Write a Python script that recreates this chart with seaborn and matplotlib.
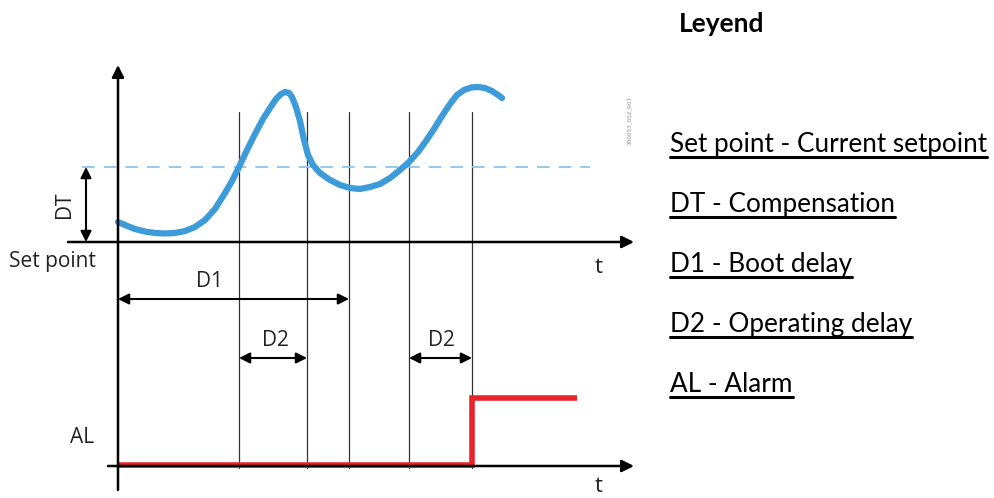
import matplotlib
matplotlib.use("Agg")
import matplotlib.pyplot as plt
import seaborn as sns
import pandas as pd

# diagram units: x = time position, y = screen height (pixel-like, grows downward)
curve_t = [118, 125, 135, 145, 155, 165, 175, 185, 195, 205, 215, 225, 232, 239, 247, 255, 263,
           270, 276, 281, 285, 289, 292, 296, 300, 304, 308, 313, 320, 330, 340, 350, 360, 370,
           380, 390, 400, 409, 418, 426, 434, 442, 450, 457, 464, 471, 478, 485, 492, 498, 502]
curve_v = [222, 225, 229, 231.5, 233, 233.5, 233, 231, 227, 220, 209, 193, 181, 167, 150, 134, 119,
           108, 99, 94, 92, 93, 97, 107, 121, 140, 155, 165, 173, 180, 185, 188, 189, 187,
           184, 178, 170, 162, 152, 141, 129, 116, 104, 95, 90, 87.5, 87, 88, 91, 95, 98]

alarm_t = [118, 472, 472, 577]
alarm_v = [465, 465, 398, 398]

event_t = [239, 307, 349, 409, 472]   # crossing / delay markers
setpoint_y = 242
threshold_y = 167
bottom_y = 466
origin_t = 118

delays = [("D1", 118, 349, 299, 210), ("D2", 239, 307, 358, 275), ("D2", 409, 472, 358, 441)]

legend_items = ["Set point - Current setpoint", "DT - Compensation", "D1 - Boot delay",
                "D2 - Operating delay", "AL - Alarm"]
legend_base = [152, 212, 272, 332, 392]

sns.set_theme(style="white")
plt.rcParams["font.family"] = ["Open Sans", "DejaVu Sans"]
diag_font = ["Open Sans", "DejaVu Sans"]
leg_font = ["Lato", "DejaVu Sans"]

fig = plt.figure(figsize=(9.95, 4.98), dpi=100)
ax = fig.add_axes([0, 0, 1, 1])

arrow = dict(arrowstyle="-|>", lw=1.8, color="black", mutation_scale=18, shrinkA=0, shrinkB=0)
darrow = dict(arrowstyle="<|-|>", lw=1.5, color="black", mutation_scale=16, shrinkA=0, shrinkB=0)

# event verticals
for t in event_t:
    ax.plot([t, t], [112, 468], color="#333333", lw=0.9)

# axes of the diagram
ax.annotate("", xy=(origin_t, 65), xytext=(origin_t, 490), arrowprops=arrow)
ax.annotate("", xy=(634, setpoint_y), xytext=(68, setpoint_y), arrowprops=arrow)
ax.annotate("", xy=(634, bottom_y), xytext=(108, bottom_y), arrowprops=arrow)

# threshold line
ax.plot([82, 590], [threshold_y, threshold_y], color="#8ec5ec", lw=1.3, dashes=(7, 5))

# DT arrow
ax.annotate("", xy=(86, threshold_y), xytext=(86, setpoint_y), arrowprops=darrow)
ax.text(64, 205, "DT", rotation=90, ha="center", va="center", fontsize=15, color="#222222",
        family=diag_font)

# measured curve
sns.lineplot(data=pd.DataFrame({"t": curve_t, "v": curve_v}), x="t", y="v", sort=False,
             estimator=None, ax=ax, color="#3d9bd9", lw=4.5, solid_capstyle="round",
             solid_joinstyle="round")

# alarm output
sns.lineplot(data=pd.DataFrame({"t": alarm_t, "v": alarm_v}), x="t", y="v", sort=False,
             estimator=None, ax=ax, color="#e8232a", lw=4, solid_capstyle="butt",
             solid_joinstyle="miter")

# delay arrows
for name, a, b, y, lx in delays:
    ax.annotate("", xy=(b, y), xytext=(a, y), arrowprops=darrow)
    ax.text(lx, y - 18, name, ha="center", va="center", fontsize=15, color="#222222",
            family=diag_font)

ax.text(52, 261, "Set point", ha="center", va="center", fontsize=15, color="#222222",
        family=diag_font)
ax.text(82, 437, "AL", ha="center", va="center", fontsize=15, color="#222222", family=diag_font)
ax.text(599, 267, "t", ha="center", va="center", fontsize=16, color="#222222", family=diag_font)
ax.text(599, 486, "t", ha="center", va="center", fontsize=16, color="#222222", family=diag_font)
ax.text(630, 120, "300053_052_R01", rotation=90, ha="center", va="center", fontsize=4.5,
        color="#888888")

ax.set_xlim(0, 995)
ax.set_ylim(498, 0)
ax.axis("off")

# legend block
ax.text(679, 32, "Leyend", ha="left", va="baseline", fontsize=19, fontweight="bold",
        color="black", family=leg_font)
fig.canvas.draw()
renderer = fig.canvas.get_renderer()
inv = ax.transData.inverted()
for label, y in zip(legend_items, legend_base):
    txt = ax.text(670, y, label, ha="left", va="baseline", fontsize=18.8, color="black",
                  family=leg_font)
    bb = txt.get_window_extent(renderer)
    x0, _ = inv.transform((bb.x0, bb.y0))
    x1, _ = inv.transform((bb.x1, bb.y0))
    ax.plot([x0, x1], [y + 4.5, y + 4.5], color="black", lw=2.2)

fig.savefig("out.png", dpi=100)
